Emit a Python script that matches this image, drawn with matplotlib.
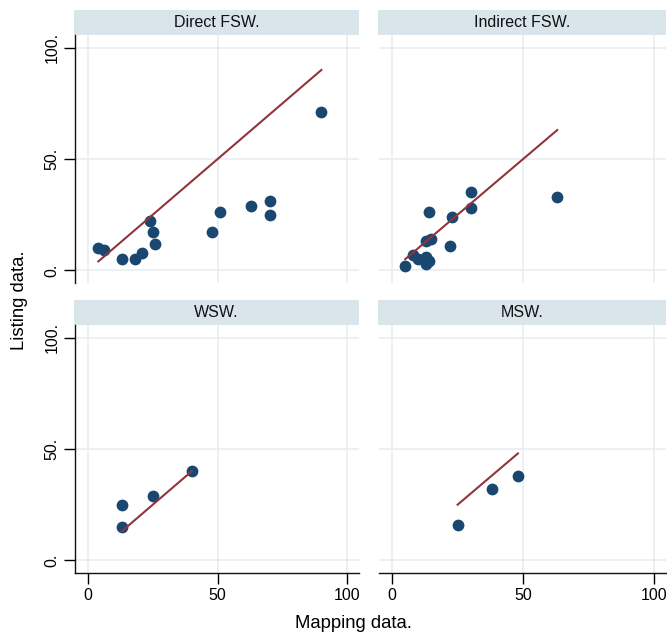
import matplotlib
matplotlib.use("Agg")
import matplotlib.pyplot as plt

plt.rcParams["font.family"] = ["Liberation Sans", "DejaVu Sans"]

panel_titles = ["Direct FSW.", "Indirect FSW.", "WSW.", "MSW."]

direct_x = [4, 6, 13, 18, 21, 24, 25, 26, 48, 51, 63, 70, 70, 90]
direct_y = [10, 9, 5, 5, 8, 22, 17, 12, 17, 26, 29, 31, 25, 71]

indirect_x = [5, 8, 10, 13, 13, 13, 14, 14, 15, 22, 23, 30, 30, 63]
indirect_y = [2, 7, 5, 6, 3, 13, 26, 4, 14, 11, 24, 35, 28, 33]

wsw_x = [13, 13, 25, 40]
wsw_y = [25, 15, 29, 40]

msw_x = [25, 38, 48]
msw_y = [16, 32, 38]

tick_values = [0, 50, 100]
y_tick_labels = ["0.", "50.", "100."]
x_tick_labels = ["0", "50", "100"]

NAVY = "#1A476F"
MAROON = "#90353B"
STRIP = "#D9E5EB"
GRID = "#E6EEF1"

W, H = 667, 636
fig = plt.figure(figsize=(W / 100, H / 100), dpi=100)


def box(left, top, right, bottom):
    return [left / W, 1 - bottom / H, (right - left) / W, (bottom - top) / H]


# (left, right) in px for columns, (strip_top, plot_top, plot_bottom) for rows
columns = [(75, 359), (379, 666)]
rows = [(10, 35, 283), (300, 325, 573)]
panels = [
    (direct_x, direct_y),
    (indirect_x, indirect_y),
    (wsw_x, wsw_y),
    (msw_x, msw_y),
]

for i, (xs, ys) in enumerate(panels):
    r, c = divmod(i, 2)
    left, right = columns[c]
    strip_top, top, bottom = rows[r]

    strip = fig.add_axes(box(left - 1, strip_top, right, top))
    strip.set_facecolor(STRIP)
    strip.set_xticks([])
    strip.set_yticks([])
    for s in strip.spines.values():
        s.set_visible(False)
    strip.text(0.5, 0.5, panel_titles[i], ha="center", va="center",
               fontsize=11.5, color="#111111")

    ax = fig.add_axes(box(left, top, right, bottom))
    ax.set_xlim(-5, 104.5)
    ax.set_ylim(-5.7, 105.7)
    ax.set_xticks(tick_values)
    ax.set_yticks(tick_values)
    ax.grid(True, color=GRID, linewidth=1.2)
    ax.set_axisbelow(True)
    for s in ("top", "right"):
        ax.spines[s].set_visible(False)
    ax.spines["left"].set_visible(c == 0)
    ax.spines["bottom"].set_visible(r == 1)
    for s in ("left", "bottom"):
        ax.spines[s].set_linewidth(1.0)
        ax.spines[s].set_color("#111111")

    if c == 0:
        ax.set_yticklabels(y_tick_labels, rotation=90, va="center",
                           fontsize=11.5)
        ax.tick_params(axis="y", length=8, width=1.0, pad=3)
    else:
        ax.tick_params(axis="y", length=0, labelleft=False)
    if r == 1:
        ax.set_xticklabels(x_tick_labels, fontsize=11.5)
        ax.tick_params(axis="x", length=8, width=1.0, pad=3)
    else:
        ax.tick_params(axis="x", length=0, labelbottom=False)

    ax.scatter(xs, ys, s=72, color=NAVY, zorder=3, linewidths=0)
    lo, hi = min(xs), max(xs)
    ax.plot([lo, hi], [lo, hi], color=MAROON, linewidth=1.5, zorder=4)

fig.text(353 / W, 1 - 623 / H, "Mapping data.", ha="center", va="center",
         fontsize=13.3)
fig.text(20 / W, 1 - 300 / H, "Listing data.", ha="center", va="center",
         rotation=90, fontsize=13.3)

fig.savefig("out.png", dpi=100, facecolor="white")
